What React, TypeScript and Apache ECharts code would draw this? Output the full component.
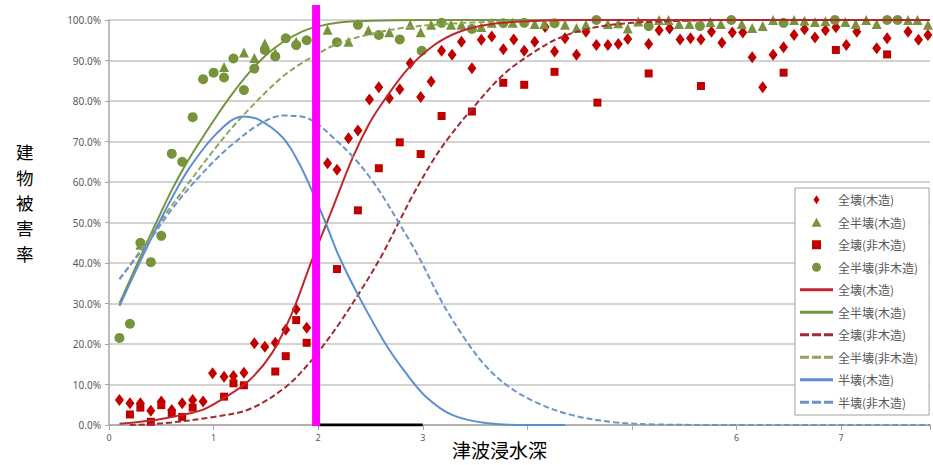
import React, { useEffect, useRef } from 'react';
import * as echarts from 'echarts';

// ---- Data ----
// x: 津波浸水深 (m), y: 建物被害率 (%)
const woodCollapsePts = [
  [0.1, 6.2], [0.2, 5.4], [0.3, 5.4], [0.4, 3.5], [0.5, 5.8], [0.6, 3.7], [0.7, 5.4], [0.8, 6.2], [0.9, 5.8],
  [0.99, 12.8], [1.1, 11.9], [1.19, 12.1], [1.29, 12.9], [1.39, 20.2], [1.49, 19.3], [1.59, 20.3], [1.69, 23.5],
  [1.79, 28.6], [1.89, 24], [2.09, 64.6], [2.18, 63], [2.29, 70.8], [2.38, 72.7], [2.49, 80.4], [2.58, 83.4],
  [2.68, 80.7], [2.78, 82.9], [2.88, 89.3], [2.98, 81], [3.08, 84.8], [3.18, 92.4], [3.28, 91.4], [3.37, 94.6],
  [3.47, 88.1], [3.56, 95.1], [3.66, 95.9], [3.77, 92.8], [3.87, 95.2], [3.97, 92.4], [4.07, 94.6], [4.17, 98.3],
  [4.26, 92.2], [4.36, 95.5], [4.47, 91.4], [4.56, 97.1], [4.66, 93.8], [4.77, 93.8], [4.87, 94.1], [4.96, 95.3],
  [5.16, 94.1], [5.26, 97.5], [5.36, 97.9], [5.46, 95.2], [5.56, 95.5], [5.66, 95.2], [5.76, 97.1], [5.86, 94.4],
  [5.96, 96.9], [6.06, 96.9], [6.15, 90.8], [6.25, 83.4], [6.35, 91.4], [6.45, 93.3], [6.55, 96.3], [6.65, 97.7],
  [6.75, 95.7], [6.85, 97.5], [6.95, 98.2], [7.05, 93.8], [7.15, 97.1], [7.34, 93], [7.44, 95.5], [7.64, 97.1],
  [7.74, 95.1], [7.83, 96.3],
];
const woodPartialPts = [
  [0.3, 44.5], [1.1, 88.4], [1.29, 92], [1.39, 90.6], [1.49, 94.2], [1.59, 91.8], [1.79, 94.6], [2.09, 97.6],
  [2.29, 94.6], [2.48, 97.5], [2.68, 97], [2.88, 98.8], [2.98, 97], [3.08, 98.8], [3.27, 98.8], [3.37, 98.8],
  [3.56, 98.3], [3.66, 99.3], [3.86, 99.3], [4.07, 99], [4.16, 99], [4.36, 98.8], [4.47, 98], [4.56, 98.8],
  [4.77, 99], [4.87, 99.2], [4.96, 97.9], [5.06, 99.6], [5.26, 100], [5.35, 100], [5.45, 99], [5.55, 99],
  [5.75, 99.5], [5.85, 99], [6.05, 99], [6.15, 98], [6.25, 98.5], [6.35, 100], [6.55, 100], [6.65, 99.8],
  [6.75, 99.5], [6.85, 99.7], [7.04, 99.5], [7.14, 99], [7.24, 100], [7.34, 99], [7.64, 100], [7.73, 100],
  [7.83, 98.8],
];
const nonWoodCollapsePts = [
  [0.2, 2.6], [0.3, 4.3], [0.4, 0.8], [0.5, 4.9], [0.6, 2.9], [0.7, 2], [0.8, 4.3], [1.1, 7], [1.19, 10.3],
  [1.29, 9.8], [1.59, 13.2], [1.69, 17], [1.79, 25.9], [1.89, 20.3], [2.18, 38.5], [2.38, 53], [2.58, 63.4],
  [2.78, 69.8], [2.98, 66.9], [3.18, 76.3], [3.47, 77.4], [3.77, 84.5], [3.97, 84], [4.26, 87.2], [4.67, 79.6],
  [5.16, 86.8], [5.66, 83.7], [6.45, 87], [6.95, 92.6], [7.44, 91.5],
];
const nonWoodPartialPts = [
  [0.1, 21.5], [0.2, 25], [0.3, 45], [0.4, 40.2], [0.5, 46.7], [0.6, 67], [0.7, 65], [0.8, 76], [0.9, 85.4],
  [1.0, 87], [1.1, 85.8], [1.19, 90.5], [1.29, 82.7], [1.39, 88], [1.49, 92.6], [1.59, 91], [1.69, 95.5],
  [1.79, 93.8], [1.89, 95], [2.18, 94.5], [2.38, 98.8], [2.58, 96.3], [2.78, 95.2], [2.99, 92.4], [3.18, 99.3],
  [3.47, 97.8], [3.77, 99.2], [3.97, 99.3], [4.26, 99.2], [4.66, 100], [5.16, 98.5], [5.65, 98.5], [5.95, 100],
  [6.45, 99.3], [6.94, 100], [7.44, 100], [7.54, 100],
];

const curveWoodCollapse = [
  [0.1, 0.3], [0.3, 0.8], [0.5, 1.5], [0.7, 2.5], [0.9, 3.8], [1.09, 6.5], [1.34, 11], [1.56, 17.8],
  [1.75, 27.6], [1.94, 40.7], [2.13, 53], [2.33, 66], [2.49, 74.5], [2.64, 80.5], [2.86, 88], [3.12, 94],
  [3.37, 97.3], [3.66, 99], [4.0, 99.7], [4.5, 100], [7.85, 100],
];
const curveWoodPartial = [
  [0.1, 30], [0.3, 41.5], [0.47, 51], [0.6, 58], [0.74, 64.6], [0.87, 70], [1.03, 76.3], [1.18, 81.8],
  [1.34, 87], [1.5, 91.3], [1.66, 94.5], [1.85, 97.2], [1.98, 98.3], [2.2, 99.4], [2.5, 99.8], [3.0, 100],
  [7.85, 100],
];
const curveNonWoodCollapse = [
  [0.2, 0], [0.55, 0.5], [1.0, 2], [1.34, 3.9], [1.69, 9.4], [1.94, 16], [2.04, 19.3], [2.2, 25], [2.39, 32.5],
  [2.6, 41.5], [2.77, 50], [2.9, 56.5], [3.09, 65], [3.25, 71], [3.47, 78], [3.77, 86.5], [4.06, 92],
  [4.3, 95.5], [4.61, 98], [5.0, 99.3], [5.5, 99.8], [6.0, 100], [7.85, 100],
];
const curveNonWoodPartial = [
  [0.1, 36], [0.3, 43], [0.55, 52.4], [0.72, 58.3], [0.87, 63.5], [1.03, 68.8], [1.18, 73.5], [1.34, 78],
  [1.5, 82.2], [1.66, 86], [1.82, 89], [1.95, 91], [2.2, 94.3], [2.55, 96.8], [2.8, 98], [3.1, 98.8],
  [3.5, 99.4], [4.0, 99.8], [4.5, 100], [7.85, 100],
];
const curveWoodHalf = [
  [0.1, 29.4], [0.3, 40.5], [0.47, 49.5], [0.61, 56.5], [0.77, 63.5], [1.03, 72], [1.28, 76.2], [1.44, 75.3],
  [1.66, 71], [1.82, 64.5], [1.98, 55.5], [2.07, 50], [2.2, 41.6], [2.39, 31.7], [2.64, 20.2], [2.84, 12.8],
  [3.03, 7], [3.28, 2.5], [3.6, 0.5], [4.0, 0], [4.36, 0],
];
const curveNonWoodHalf = [
  [0.1, 36], [0.25, 41], [0.4, 46], [0.55, 51.5], [0.7, 56.5], [0.87, 61.5], [1.03, 65.8], [1.18, 69.3],
  [1.44, 74.3], [1.66, 76.4], [1.85, 76.1], [1.98, 74.6], [2.15, 70.8], [2.33, 66.3], [2.49, 61.3], [2.63, 56],
  [2.77, 50], [2.96, 41.6], [3.18, 30.5], [3.41, 21], [3.6, 14.6], [3.82, 9.5], [4.1, 5.4], [4.42, 2.5],
  [4.83, 0.7], [5.3, 0.1], [6.0, 0], [7.85, 0],
];

const highlightSpan = [[2, 0], [3, 0]];
const markerX = 1.98;
const xLabelShown = [0, 1, 2, 3, 6, 7];
const yTickValues = [0, 10, 20, 30, 40, 50, 60, 70, 80, 90, 100];
const yTitleChars = ['建', '物', '被', '害', '率'];
const xTitle = '津波浸水深';

const seriesNames = {
  wc: '全壊(木造)',
  wp: '全半壊(木造)',
  nc: '全壊(非木造)',
  np: '全半壊(非木造)',
  wh: '半壊(木造)',
  nh: '半壊(非木造)',
};

const RED_PT = '#c00000';
const GREEN_PT = '#77933c';
const RED_LINE = '#c0262d';
const RED_DASH = '#a02b30';
const GREEN_LINE = '#77933c';
const GREEN_DASH = '#8ea55a';
const BLUE_LINE = '#5b8fd0';
const BLUE_DASH = '#6c94c8';

const ICON_DIAMOND = 'path://M5,0L9,6L5,12L1,6Z';
const ICON_TRI = 'path://M5,0L10,9L0,9Z';
const ICON_SQ = 'path://M0,0L9,0L9,9L0,9Z';
const ICON_CIRCLE = 'path://M0,5A5,5 0 1,0 10,5A5,5 0 1,0 0,5Z';
const ICON_SOLID = 'path://M0,0H33V3H0Z';
const ICON_DASH = 'path://M0,0H9V3H0Z M12,0H21V3H12Z M24,0H33V3H24Z';

export default function App() {
  const ref = useRef<HTMLDivElement>(null);

  useEffect(() => {
    if (!ref.current) return;
    const chart = echarts.init(ref.current, undefined, { renderer: 'svg' });

    const lineSeries = (name: string, data: number[][], color: string, dashed: boolean, z = 3) => ({
      name,
      type: 'line',
      data,
      smooth: 0.35,
      showSymbol: false,
      symbol: 'none',
      z,
      lineStyle: { color, width: 2, type: dashed ? [6, 3] : 'solid' },
      itemStyle: { color },
    });

    const scatter = (name: string, data: number[][], color: string, symbol: string, size: any) => ({
      name,
      type: 'scatter',
      data,
      symbol,
      symbolSize: size,
      itemStyle: { color, opacity: 1 },
      z: 2,
    });

    const titleGraphics: any[] = [
      ...yTitleChars.map((ch, i) => ({
        id: 'yt' + i,
        type: 'text',
        left: 16,
        top: 143 + i * 25.4,
        style: {
          text: ch,
          fontSize: 17.5,
          fill: '#000',
          fontFamily: 'Noto Sans CJK JP',
        },
      })),
      {
        id: 'xtitle',
        type: 'text',
        left: 452,
        top: 440,
        style: {
          text: xTitle,
          fontSize: 19,
          fill: '#000',
          fontFamily: 'Noto Sans CJK JP',
        },
      },
    ];

    const option: any = {
      animation: false,
      backgroundColor: '#fff',
      textStyle: { fontFamily: 'Noto Sans, Noto Sans CJK JP' },
      grid: { left: 109, right: 0, top: 20, bottom: 40, containLabel: false },
      xAxis: {
        type: 'value',
        min: 0,
        max: 7.85,
        interval: 1,
        axisLine: { show: true, lineStyle: { color: '#a6a6a6', width: 1.5 } },
        axisTick: { show: true, length: 5, lineStyle: { color: '#a6a6a6' } },
        axisLabel: {
          fontSize: 9,
          color: '#595959',
          margin: 8,
          formatter: (v: number) => (xLabelShown.indexOf(v) >= 0 ? String(v) : ''),
        },
        splitLine: { show: false },
      },
      yAxis: {
        type: 'value',
        min: yTickValues[0],
        max: yTickValues[yTickValues.length - 1],
        interval: 10,
        axisLine: { show: true, lineStyle: { color: '#a6a6a6', width: 1.5 } },
        axisTick: { show: true, length: 4, lineStyle: { color: '#a6a6a6' } },
        axisLabel: {
          fontSize: 10,
          color: '#595959',
          margin: 8,
          formatter: (v: number) => v.toFixed(1) + '%',
        },
        splitLine: { show: true, lineStyle: { color: '#c4c4c4', width: 1.5 } },
      },
      legend: {
        orient: 'vertical',
        left: 795,
        top: 188,
        padding: [5, 11, 6, 5],
        itemGap: 9,
        itemWidth: 33,
        itemHeight: 9,
        backgroundColor: '#fff',
        borderColor: '#a0a0a0',
        borderWidth: 1,
        selectedMode: false,
        itemStyle: { borderWidth: 0 },
        textStyle: { fontSize: 12, color: '#595959', fontFamily: 'Noto Sans CJK JP', lineHeight: 13.5 },
        formatter: (n: string) => n.replace(/^L:/, ''),
        data: [
          { name: seriesNames.wc, icon: ICON_DIAMOND, itemStyle: { color: RED_PT } },
          { name: seriesNames.wp, icon: ICON_TRI, itemStyle: { color: GREEN_PT } },
          { name: seriesNames.nc, icon: ICON_SQ, itemStyle: { color: RED_PT } },
          { name: seriesNames.np, icon: ICON_CIRCLE, itemStyle: { color: GREEN_PT } },
          { name: 'L:' + seriesNames.wc, icon: ICON_SOLID, itemStyle: { color: RED_LINE } },
          { name: 'L:' + seriesNames.wp, icon: ICON_SOLID, itemStyle: { color: GREEN_LINE } },
          { name: 'L:' + seriesNames.nc, icon: ICON_DASH, itemStyle: { color: RED_DASH } },
          { name: 'L:' + seriesNames.np, icon: ICON_DASH, itemStyle: { color: GREEN_DASH } },
          { name: 'L:' + seriesNames.wh, icon: ICON_SOLID, itemStyle: { color: BLUE_LINE } },
          { name: 'L:' + seriesNames.nh, icon: ICON_DASH, itemStyle: { color: BLUE_DASH } },
        ],
      },
      graphic: titleGraphics,
      series: [
        scatter(seriesNames.wc, woodCollapsePts, RED_PT, 'diamond', [9, 12]),
        scatter(seriesNames.wp, woodPartialPts, GREEN_PT, 'triangle', 10),
        scatter(seriesNames.nc, nonWoodCollapsePts, RED_PT, 'rect', 8),
        scatter(seriesNames.np, nonWoodPartialPts, GREEN_PT, 'circle', 10),
        lineSeries('L:' + seriesNames.wp, curveWoodPartial, GREEN_LINE, false),
        lineSeries('L:' + seriesNames.np, curveNonWoodPartial, GREEN_DASH, true),
        lineSeries('L:' + seriesNames.wc, curveWoodCollapse, RED_LINE, false),
        lineSeries('L:' + seriesNames.nc, curveNonWoodCollapse, RED_DASH, true),
        lineSeries('L:' + seriesNames.wh, curveWoodHalf, BLUE_LINE, false),
        lineSeries('L:' + seriesNames.nh, curveNonWoodHalf, BLUE_DASH, true),
        {
          name: 'span',
          type: 'line',
          data: highlightSpan,
          symbol: 'none',
          z: 6,
          lineStyle: { color: '#000', width: 3 },
        },
      ],
    };

    chart.setOption(option);

    const px = chart.convertToPixel({ xAxisIndex: 0 }, markerX) as number;
    const pyBottom = chart.convertToPixel({ yAxisIndex: 0 }, 0) as number;
    chart.setOption({
      graphic: [
        ...titleGraphics,
        {
          id: 'marker',
          type: 'rect',
          z: 100,
          shape: { x: px - 4, y: 5, width: 8, height: pyBottom + 1 - 5 },
          style: { fill: '#ff00ff' },
        },
      ],
    });

    return () => {
      chart.dispose();
    };
  }, []);

  return (
    <div
      ref={ref}
      style={{ position: 'absolute', left: 0, top: 0, width: 933, height: 465, background: '#fff' }}
    />
  );
}
